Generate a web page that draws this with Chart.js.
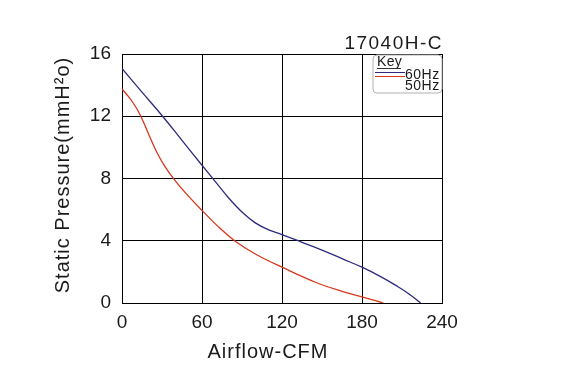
<!DOCTYPE html>
<html>
<head>
<meta charset="utf-8">
<script src="https://cdn.jsdelivr.net/npm/chart.js@4/dist/chart.umd.min.js"></script>
<style>
html,body{margin:0;padding:0;background:#fff;}
#wrap{width:568px;height:383px;}
</style>
</head>
<body>
<div id="wrap"><canvas id="c" width="568" height="383"></canvas></div>
<script>
// Data
const cfm60 = [0, 15, 30, 45, 60, 70, 80, 90, 100, 110, 120, 135, 150, 165, 180, 195, 205, 215, 224];
const p60   = [15.07, 13.55, 12.05, 10.45, 8.85, 7.8, 6.75, 5.85, 5.15, 4.7, 4.4, 3.9, 3.4, 2.85, 2.3, 1.65, 1.15, 0.6, 0];
const cfm50 = [0, 4, 8, 12, 16, 20, 26, 32, 40, 50, 60, 73.5, 86, 101, 120, 146, 165, 180, 196];
const p50   = [13.75, 13.35, 12.9, 12.35, 11.65, 10.85, 9.7, 8.8, 7.85, 6.85, 5.95, 4.8, 3.9, 3.1, 2.3, 1.3, 0.75, 0.4, 0];
const xTicks = [0, 60, 120, 180, 240];
const yTicks = [0, 4, 8, 12, 16];
const seriesNames = ['60Hz', '50Hz'];
const chartTitle = '17040H-C';
const xTitle = 'Airflow-CFM';
const yTitle = 'Static Pressure(mmH\u00B2o)';
const legendTitle = 'Key';

const BLUE = '#2c2a7c';
const RED = '#d6381c';
const TXT = '#1a1a1a';
const FONT = '"Liberation Sans", Arial, sans-serif';

function pts(xs, ys){ return xs.map((x,i)=>({x:x, y:ys[i]})); }

const overlay = {
  id: 'overlay',
  afterDraw(chart){
    const ctx = chart.ctx;
    const a = chart.chartArea;
    ctx.save();
    ctx.fillStyle = TXT;
    // chart title (top right)
    ctx.font = '19px ' + FONT;
    ctx.letterSpacing = '1.5px';
    ctx.textAlign = 'right';
    ctx.textBaseline = 'alphabetic';
    ctx.fillText(chartTitle, a.right + 1, 49);
    // x axis title
    ctx.font = '20px ' + FONT;
    ctx.letterSpacing = '1px';
    ctx.textAlign = 'center';
    ctx.fillText(xTitle, 268, 358);
    // y axis title
    ctx.save();
    ctx.translate(63, 175);
    ctx.rotate(-Math.PI/2);
    ctx.textAlign = 'center';
    ctx.textBaseline = 'middle';
    ctx.fillText(yTitle, 0, 0);
    ctx.restore();
    // legend box
    const bx = 373, by = 55, bw = a.right - 373, bh = 38, r = 4;
    ctx.beginPath();
    ctx.moveTo(bx + r, by);
    ctx.lineTo(bx + bw - r, by);
    ctx.arcTo(bx + bw, by, bx + bw, by + r, r);
    ctx.lineTo(bx + bw, by + bh - r);
    ctx.arcTo(bx + bw, by + bh, bx + bw - r, by + bh, r);
    ctx.lineTo(bx + r, by + bh);
    ctx.arcTo(bx, by + bh, bx, by + bh - r, r);
    ctx.lineTo(bx, by + r);
    ctx.arcTo(bx, by, bx + r, by, r);
    ctx.closePath();
    ctx.fillStyle = '#fff';
    ctx.fill();
    ctx.strokeStyle = '#b0b0b0';
    ctx.lineWidth = 1;
    ctx.stroke();
    // legend content
    ctx.fillStyle = TXT;
    ctx.font = '14px ' + FONT;
    ctx.letterSpacing = '0.3px';
    ctx.textAlign = 'left';
    ctx.textBaseline = 'alphabetic';
    ctx.fillText(legendTitle, 377, 66);
    ctx.strokeStyle = '#333';
    ctx.beginPath(); ctx.moveTo(377, 68.5); ctx.lineTo(401, 68.5); ctx.stroke();
    ctx.strokeStyle = BLUE;
    ctx.beginPath(); ctx.moveTo(375, 72.5); ctx.lineTo(405, 72.5); ctx.stroke();
    ctx.strokeStyle = RED;
    ctx.beginPath(); ctx.moveTo(375, 76.5); ctx.lineTo(405, 76.5); ctx.stroke();
    ctx.letterSpacing = '0.5px';
    ctx.fillText(seriesNames[0], 405, 79);
    ctx.fillText(seriesNames[1], 405, 90);
    ctx.restore();
  }
};

new Chart(document.getElementById('c'), {
  type: 'line',
  data: {
    datasets: [
      { label: seriesNames[0], data: pts(cfm60, p60), borderColor: BLUE, borderWidth: 1.3,
        pointRadius: 0, tension: 0.4, fill: false },
      { label: seriesNames[1], data: pts(cfm50, p50), borderColor: RED, borderWidth: 1.3,
        pointRadius: 0, tension: 0.4, fill: false }
    ]
  },
  options: {
    responsive: false,
    animation: false,
    devicePixelRatio: 1,
    layout: { padding: { left: 0, top: 54, right: 126, bottom: 0 } },
    plugins: { legend: { display: false }, tooltip: { enabled: false }, title: { display: false } },
    scales: {
      x: {
        type: 'linear', min: 0, max: 240,
        afterFit(s){ s.height = 80; },
        afterBuildTicks(s){ s.ticks = xTicks.map(v => ({value: v})); },
        grid: { color: '#000', lineWidth: 1, drawTicks: false },
        border: { color: '#000', width: 1 },
        ticks: { color: TXT, font: { family: FONT, size: 19 }, padding: 8, maxRotation: 0 }
      },
      y: {
        type: 'linear', min: 0, max: 16,
        afterFit(s){ s.width = 122; },
        afterBuildTicks(s){ s.ticks = yTicks.map(v => ({value: v})); },
        grid: { color: '#000', lineWidth: 1, drawTicks: false },
        border: { color: '#000', width: 1 },
        ticks: { color: TXT, font: { family: FONT, size: 19 }, padding: 11 }
      }
    }
  },
  plugins: [overlay]
});
</script>
</body>
</html>
